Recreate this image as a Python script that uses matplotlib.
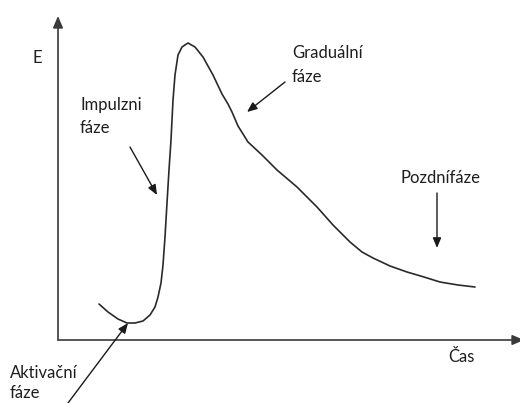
import matplotlib
matplotlib.use("Agg")
import matplotlib.pyplot as plt

# Curve data (time, energy) in the chart's own units (origin at the axes corner)
time = [41, 50, 60, 69, 77, 85, 92, 97, 100, 103, 105, 107, 109, 111, 113, 115, 117,
        120, 124, 130, 137, 145, 155, 164, 170, 174, 180, 190, 204, 219, 239, 259,
        275, 292, 304, 315, 332, 349, 366, 382, 400, 417]
energy = [36, 28, 21, 17, 17, 19, 25, 33, 43, 57, 75, 103, 137, 170, 200, 240, 265,
          285, 293, 297, 293, 283, 265, 246, 236, 228, 214, 198, 185, 170, 153, 133,
          115, 98, 88, 82, 74, 68, 63, 58, 55, 53]

labels = ["E", "Čas", "Impulzni", "fáze", "Graduální", "fáze", "Pozdnífáze", "Aktivační", "fáze"]
label_x = [-26, 390, 22, 22, 234, 234, 342, -48, -48]
label_y = [277, -22, 230, 207, 282, 258, 157, -38, -58]

# arrows: (start_x, start_y, end_x, end_y)
arrows = [
    (72, 193, 99, 145),     # Impulzni
    (227, 258, 189, 228),   # Graduální
    (379, 147, 379, 92),    # Pozdní
    (10, -63, 70, 17),      # Aktivační
]

fig = plt.figure(figsize=(5.2, 4.03), dpi=100)
ax = fig.add_axes([0, 0, 1, 1])
ax.set_xlim(-58, 462)
ax.set_ylim(-63, 340)
ax.axis("off")

axis_col = "#3a3a3a"
# axes with arrows
ax.annotate("", xy=(0, 324), xytext=(0, 0),
            arrowprops=dict(arrowstyle="-|>,head_length=0.7,head_width=0.3", color=axis_col, lw=1.2,
                            shrinkA=0, shrinkB=0))
ax.annotate("", xy=(466, 0), xytext=(0, 0),
            arrowprops=dict(arrowstyle="-|>,head_length=0.7,head_width=0.3", color=axis_col, lw=1.2,
                            shrinkA=0, shrinkB=0), annotation_clip=False)

ax.plot(time, energy, color="#2a2a2a", lw=1.2, solid_capstyle="round", solid_joinstyle="round")

for sx, sy, ex, ey in arrows:
    ax.annotate("", xy=(ex, ey), xytext=(sx, sy),
                arrowprops=dict(arrowstyle="-|>,head_length=0.6,head_width=0.25", color="#1a1a1a", lw=1.0,
                                shrinkA=0, shrinkB=0), annotation_clip=False)

for t, x, y in zip(labels, label_x, label_y):
    ax.text(x, y, t, fontsize=12, family=["Lato", "DejaVu Sans"], color="#1e1e1e",
            ha="left", va="baseline", clip_on=False)

fig.savefig("out.png", dpi=100)
